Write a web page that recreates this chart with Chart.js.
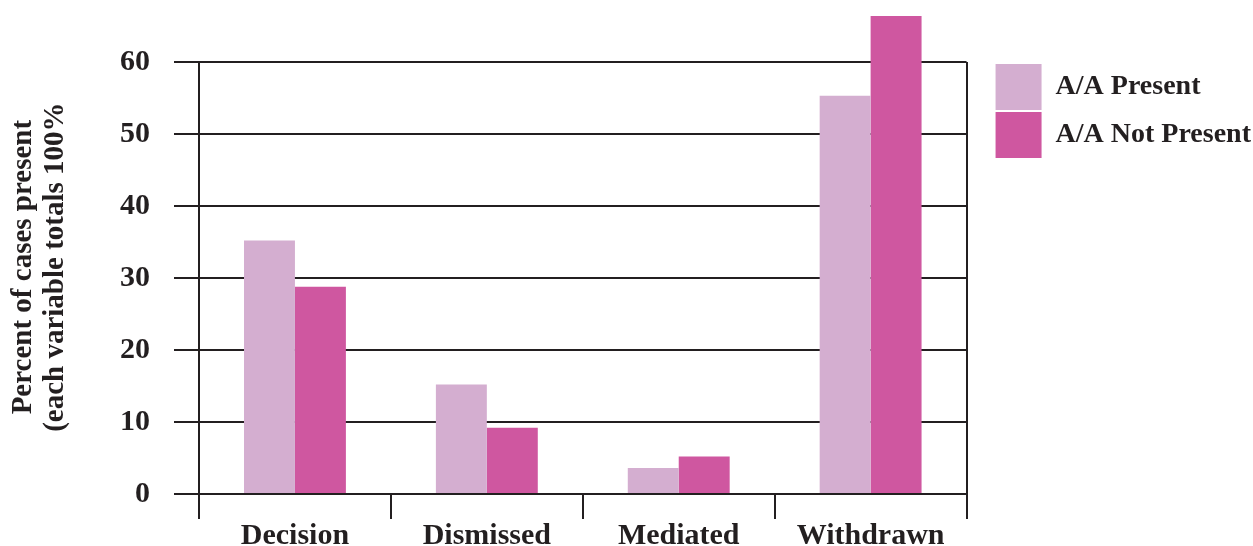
<!DOCTYPE html>
<html>
<head>
<meta charset="utf-8">
<script src="https://cdn.jsdelivr.net/npm/chart.js@4"></script>
<style>
  body { margin: 0; background: #fff; }
</style>
</head>
<body>
<canvas id="outcome-chart" width="1253" height="546"></canvas>
<script>
// Outcome categories and percentages
const categories = ['Decision', 'Dismissed', 'Mediated', 'Withdrawn'];
const aaPresent = [35.2, 15.2, 3.6, 55.3];
const aaNotPresent = [28.8, 9.2, 5.2, 66.4];
const yTicks = [0, 10, 20, 30, 40, 50, 60];

const ink = '#231f20';
Chart.defaults.font.family = '"Liberation Serif", "Times New Roman", serif';
Chart.defaults.font.weight = 'bold';
Chart.defaults.color = ink;

const ctx = document.getElementById('outcome-chart').getContext('2d');
const outcomeChart = new Chart(ctx, {
    type: 'bar',
    data: {
        labels: categories,
        datasets: [{
            label: 'A/A Present',
            data: aaPresent,
            backgroundColor: '#d4aed0',
            borderWidth: 0,
            clip: false
        }, {
            label: 'A/A Not Present',
            data: aaNotPresent,
            backgroundColor: '#cf57a0',
            borderWidth: 0,
            clip: false
        }]
    },
    options: {
        responsive: false,
        devicePixelRatio: 1,
        animation: false,
        categoryPercentage: 0.531,
        barPercentage: 1.0,
        layout: {
            padding: { top: 62, right: -8, bottom: 0, left: 0 }
        },
        plugins: {
            tooltip: { enabled: false },
            legend: {
                position: 'right',
                align: 'start',
                maxWidth: 300,
                labels: {
                    boxWidth: 46,
                    boxHeight: 46,
                    padding: 2,
                    color: ink,
                    font: { size: 28, weight: 'bold' }
                }
            }
        },
        scales: {
            x: {
                afterFit: (scale) => { scale.height = 52; },
                grid: {
                    offset: true,
                    lineWidth: 2,
                    tickLength: 25,
                    tickColor: ink,
                    // only the outer frame lines run through the plot
                    color: (c) => (c.index === 0 || c.type === 'scale') ? ink : 'rgba(0,0,0,0)'
                },
                border: { display: false },
                ticks: {
                    padding: 2,
                    color: ink,
                    font: { size: 30, weight: 'bold', lineHeight: 1.0 }
                }
            },
            y: {
                min: 0,
                max: 60,
                afterBuildTicks: (scale) => {
                    scale.ticks = yTicks.map(v => ({ value: v }));
                },
                afterFit: (scale) => { scale.width = 199; },
                grid: {
                    color: ink,
                    lineWidth: 2,
                    tickLength: 25,
                    tickColor: ink
                },
                border: { display: false },
                ticks: {
                    padding: 24,
                    color: ink,
                    font: { size: 30, weight: 'bold' }
                },
                title: {
                    display: true,
                    text: ['   Percent of cases present', '   (each variable totals 100%'],
                    color: ink,
                    font: { size: 29, weight: 'bold', lineHeight: 1.1 },
                    padding: { top: 8, bottom: 36 }
                }
            },
            gap: {
                position: 'right',
                grid: { display: false },
                ticks: { display: false },
                border: { display: false },
                afterFit: (scale) => { scale.width = 27; }
            }
        }
    }
});
</script>
</body>
</html>
